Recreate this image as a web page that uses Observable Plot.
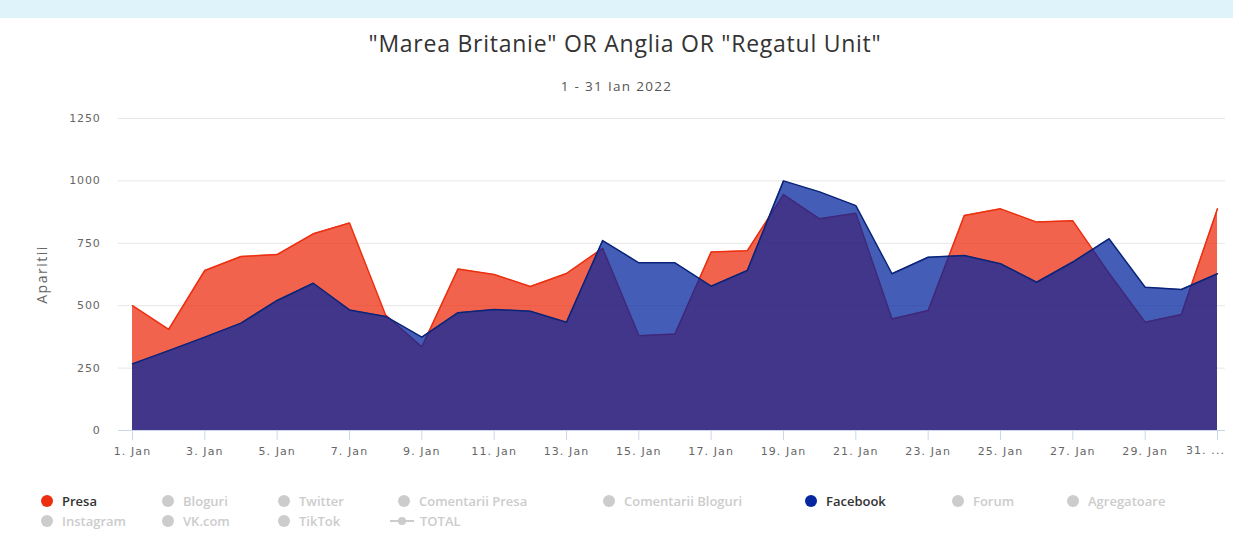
<!DOCTYPE html>
<html>
<head>
<meta charset="utf-8">
<script src="https://cdn.jsdelivr.net/npm/d3@7"></script>
<script src="https://cdn.jsdelivr.net/npm/@observablehq/plot@0.6"></script>
<style>
  html, body { margin: 0; padding: 0; background: #fff; }
  body { width: 1233px; height: 535px; position: relative; overflow: hidden; font-family: "Open Sans", "DejaVu Sans", sans-serif; }
  #band { position: absolute; left: 0; top: 0; width: 1233px; height: 18px; background: #dff4fa; }
  #title { position: absolute; left: 0; top: 27px; width: 1250px; text-align: center; font-size: 23px; color: #333; letter-spacing: 0.75px; }
  #subtitle { position: absolute; left: 0; top: 77px; width: 1233px; text-align: center; font-size: 13.5px; color: #555; letter-spacing: 1.3px; }
  #chart { position: absolute; left: 0; top: 100px; }
  #chart svg g[aria-label="x-axis tick label"] text, #chart svg g.lastlabel text { letter-spacing: 1.1px; }
  #chart svg g[aria-label="y-axis tick label"] text { letter-spacing: 0.8px; }
  #chart svg g.ylabel text { letter-spacing: 1.5px; }
  .leg { position: absolute; font-size: 13px; font-weight: 600; white-space: nowrap; line-height: 16px; }
  .dot { position: absolute; width: 12px; height: 12px; border-radius: 50%; }
</style>
</head>
<body>
<div id="band"></div>
<div id="title"></div>
<div id="subtitle"></div>
<div id="chart"></div>
<div id="legend"></div>
<script>
// ---- data ----
const titleText = "\"Marea Britanie\" OR Anglia OR \"Regatul Unit\"";
const subtitleText = "1 - 31 Ian 2022";
const yLabel = "Aparitii";
const days = [1,2,3,4,5,6,7,8,9,10,11,12,13,14,15,16,17,18,19,20,21,22,23,24,25,26,27,28,29,30,31];
const presa = [500,405,641,697,705,788,831,462,335,647,625,577,629,730,380,387,715,720,945,848,870,447,481,861,888,835,840,630,434,465,888];
const facebook = [267,320,374,430,521,590,483,457,374,472,485,478,434,761,672,672,578,641,1000,956,901,628,694,701,668,594,675,768,574,565,628];
const yTicks = [0,250,500,750,1000,1250];
const xTicks = [1,3,5,7,9,11,13,15,17,19,21,23,25,27,29,31];
const xTickLabels = ["1. Jan","3. Jan","5. Jan","7. Jan","9. Jan","11. Jan","13. Jan","15. Jan","17. Jan","19. Jan","21. Jan","23. Jan","25. Jan","27. Jan","29. Jan","31. ..."];
const legendNames = ["Presa","Bloguri","Twitter","Comentarii Presa","Comentarii Bloguri","Facebook","Forum","Agregatoare","Instagram","VK.com","TikTok","TOTAL"];
const legendActive = [true,false,false,false,false,true,false,false,false,false,false,false];

// ---- styles / layout ----
const presaColor = "#ec2f10";
const facebookColor = "#06279f";
const legendColors = {Presa: presaColor, Facebook: facebookColor};
const legendLayout = [
  [47,501],[168,501],[284,501],[404,501],[609,501],[811,501],[958,501],[1073,501],
  [47,521],[168,521],[284,521],[402,521]
];

document.getElementById("title").textContent = titleText;
document.getElementById("subtitle").textContent = subtitleText;

const rows = days.map((d, i) => ({day: d, presa: presa[i], facebook: facebook[i]}));
const labelOf = new Map(xTicks.map((t, i) => [t, xTickLabels[i]]));
const lastTick = xTicks[xTicks.length - 1];

const chart = Plot.plot({
  width: 1233,
  height: 365,
  marginLeft: 118,
  marginRight: 8,
  marginTop: 18,
  marginBottom: 35,
  style: {fontFamily: "DejaVu Sans", fontSize: "11px", background: "transparent"},
  x: {domain: [0.613, 31.221]},
  y: {domain: [0, 1250]},
  marks: [
    Plot.gridY(yTicks, {stroke: "#e6e6e6", strokeOpacity: 1}),
    Plot.areaY(rows, {x: "day", y: "presa", fill: presaColor, fillOpacity: 0.75}),
    Plot.lineY(rows, {x: "day", y: "presa", stroke: presaColor, strokeWidth: 1.5}),
    Plot.areaY(rows, {x: "day", y: "facebook", fill: facebookColor, fillOpacity: 0.75}),
    Plot.lineY(rows, {x: "day", y: "facebook", stroke: "#0a2478", strokeWidth: 1.5}),
    Plot.ruleY([0], {stroke: "#ccd6eb"}),
    Plot.axisY(yTicks, {tickSize: 0, tickPadding: 18, fill: "#666", label: null,
      tickFormat: d => String(d)}),
    Plot.axisX(xTicks, {tickSize: 10, tickPadding: 7, stroke: "#ccd6eb", fill: "#666", label: null,
      tickFormat: d => d === lastTick ? "" : labelOf.get(d)}),
    Plot.text([lastTick], {x: d => d, frameAnchor: "bottom", dy: 23, dx: -12, text: d => labelOf.get(d), fill: "#666", className: "lastlabel"}),
    Plot.text([yLabel], {frameAnchor: "left", textAnchor: "middle", dx: -76, rotate: -90, fill: "#666", fontSize: 14, fontFamily: "Open Sans", text: d => d, className: "ylabel"})
  ]
});
document.getElementById("chart").appendChild(chart);

// legend
const legend = document.getElementById("legend");
legendNames.forEach((name, i) => {
  const [cx, cy] = legendLayout[i];
  const active = legendActive[i];
  const col = active ? (legendColors[name] || "#333") : "#cccccc";
  if (name === "TOTAL") {
    const line = document.createElement("div");
    line.style.cssText = `position:absolute;left:${cx-12}px;top:${cy-1}px;width:24px;height:2px;background:#ccc;`;
    legend.appendChild(line);
    const d = document.createElement("div");
    d.className = "dot";
    d.style.cssText += `left:${cx-4}px;top:${cy-4}px;width:8px;height:8px;background:#ccc;`;
    legend.appendChild(d);
  } else {
    const d = document.createElement("div");
    d.className = "dot";
    d.style.left = (cx - 6) + "px";
    d.style.top = (cy - 6) + "px";
    d.style.background = col;
    legend.appendChild(d);
  }
  const t = document.createElement("div");
  t.className = "leg";
  t.textContent = name;
  t.style.left = (cx + (name === "TOTAL" ? 18 : 15)) + "px";
  t.style.top = (cy - 8) + "px";
  t.style.color = active ? "#333" : "#cccccc";
  legend.appendChild(t);
});
</script>
</body>
</html>
